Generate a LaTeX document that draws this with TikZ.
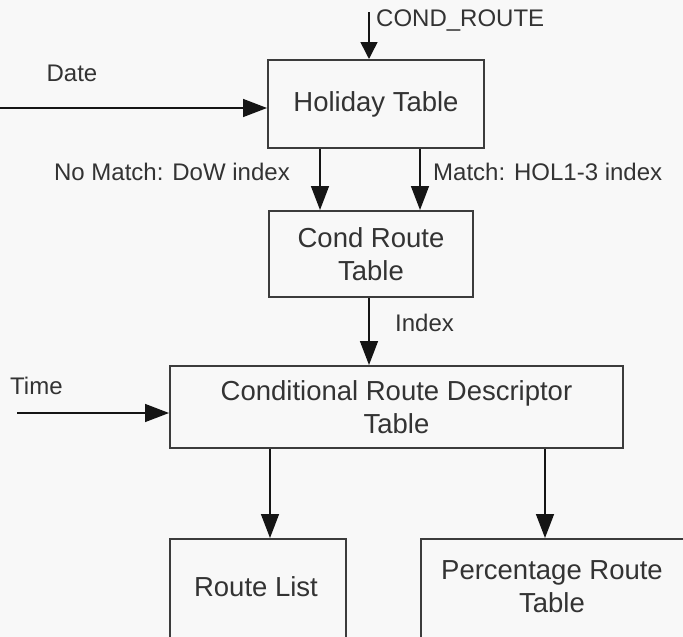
\documentclass[tikz,border=0pt]{standalone}
\usepackage{fontspec}
\setmainfont{Liberation Sans}
\usetikzlibrary{arrows.meta}
\definecolor{ink}{HTML}{151515}
\definecolor{edge}{HTML}{3C3C3C}
\definecolor{txt}{HTML}{333333}
\definecolor{paper}{HTML}{F8F8F8}
\begin{document}
\begin{tikzpicture}[x=1pt,y=-1pt,
  box/.style={draw=edge, line width=2pt, text=txt, font=\fontsize{27.5}{33}\selectfont,
              align=center, inner sep=0pt},
  boxtext/.style={text=txt, font=\fontsize{27.5}{33}\selectfont, align=center, inner sep=0pt},
  lbl/.style={text=txt, font=\fontsize{24}{28}\selectfont, inner sep=0pt},
  flow/.style={draw=ink, line width=1.5pt, -{Triangle[length=24pt,width=18pt]}},
  shortflow/.style={draw=ink, line width=1.5pt, -{Triangle[length=17pt,width=17pt]}}]
\fill[paper] (0,0) rectangle (683,637);
\useasboundingbox (0,0) rectangle (683,637);
\clip (0,0) rectangle (683,637);

% tables
\node[box, minimum width=216pt, minimum height=88pt] (hol) at (376,104) {Holiday Table};
\node[box, minimum width=204pt, minimum height=86pt] (cond) at (371,254) {Cond Route\\Table};
\node[box, minimum width=453pt, minimum height=82pt] (crdt) at (396.5,407)
  {Conditional Route Descriptor\\Table};
\node[box, anchor=north, minimum width=176pt, minimum height=120pt] (rl) at (258,538) {};
\node[boxtext] (rlt) at (256,587) {Route List};
\node[box, anchor=north west, minimum width=300pt, minimum height=120pt] (pr) at (420,538) {};
\node[boxtext] (prt) at (552,587) {Percentage Route\\Table};

% free ends and connector columns
\coordinate (condin) at (369,12);
\coordinate (datein) at (0,108);
\coordinate (timein) at (17,413);
\coordinate (colA) at (320,0);
\coordinate (colB) at (420,0);
\coordinate (colI) at (369,0);
\coordinate (colR) at (270,0);
\coordinate (colP) at (545,0);

% connectors
\draw[shortflow] (condin) -- (condin |- hol.north);
\draw[flow] (datein) -- (datein -| hol.west);
\draw[flow] (colA |- hol.south) -- (colA |- cond.north);
\draw[flow] (colB |- hol.south) -- (colB |- cond.north);
\draw[flow] (colI |- cond.south) -- (colI |- crdt.north);
\draw[flow] (timein) -- (timein -| crdt.west);
\draw[flow] (colR |- crdt.south) -- (colR |- rl.north);
\draw[flow] (colP |- crdt.south) -- (colP |- pr.north);

% labels
\node[lbl, anchor=west] (lcond) at (376,21) {COND\_ROUTE};
\node[lbl] (ldate) at (72,73) {Date};
\node[lbl, anchor=east] (lno) at (290,172) {No Match: DoW index};
\node[lbl, anchor=west] (lmatch) at (433,172) {Match: HOL1-3 index};
\node[lbl, anchor=west] (lidx) at (395,323) {Index};
\node[lbl, anchor=west] (ltime) at (10,386) {Time};
\end{tikzpicture}
\end{document}
